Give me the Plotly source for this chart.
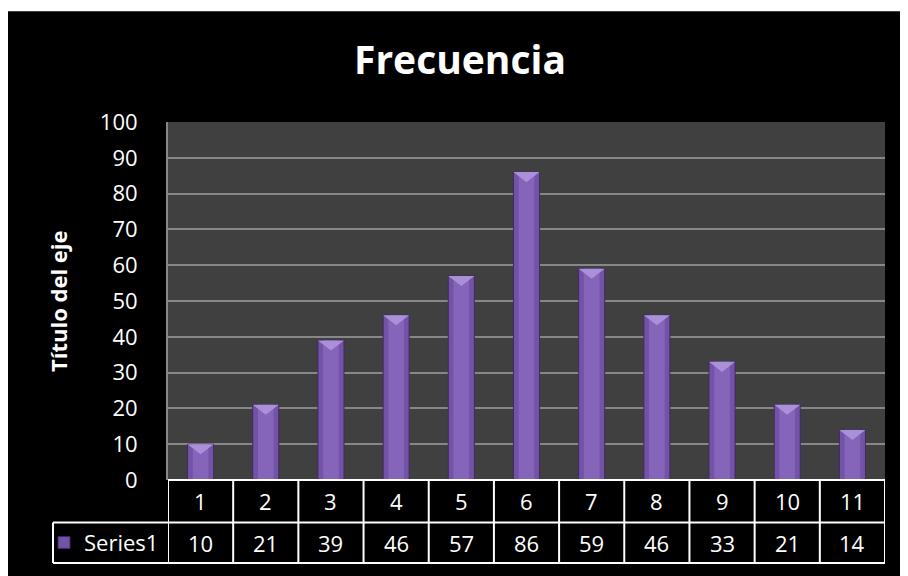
import plotly.graph_objects as go

categories = [1, 2, 3, 4, 5, 6, 7, 8, 9, 10, 11]
values = [10, 21, 39, 46, 57, 86, 59, 46, 33, 21, 14]
series_name = "Series1"
title_text = "Frecuencia"
y_title = "Título del eje"
y_ticks = [0, 10, 20, 30, 40, 50, 60, 70, 80, 90, 100]

# figure is placed at (8, 8) by the page margin
W, H = 900, 568
L, R, T, B = 160, 877, 114, 476  # plot area in figure pixels

def px(x):
    return (x - L) / (R - L)

def py(y):
    return (B - y) / (B - T)

FONT = "Open Sans"
BAR_W = 0.4
fig = go.Figure()
fig.add_trace(go.Bar(
    x=categories, y=values, name=series_name, width=BAR_W,
    marker=dict(color="#7353a6", line=dict(color="#3f2a63", width=1)),
    showlegend=True,
))
# lighter centre of the bevelled bars
fig.add_trace(go.Bar(
    x=categories, y=values, width=BAR_W * 0.6, hoverinfo="skip",
    marker=dict(color="#8565ba", line=dict(width=0)), showlegend=False,
))
# top bevel triangles
cap = 2.8
tx, ty = [], []
for c, v in zip(categories, values):
    tx += [c - BAR_W / 2, c + BAR_W / 2, c, c - BAR_W / 2, None]
    ty += [v, v, v - cap, v, None]
fig.add_trace(go.Scatter(
    x=tx, y=ty, mode="lines", fill="toself", fillcolor="#a990d8",
    line=dict(width=0, color="#a990d8"), hoverinfo="skip", showlegend=False,
))

shapes = []
# thin white strip at top of page
shapes.append(dict(type="rect", xref="paper", yref="paper", x0=px(-10), x1=px(W + 10), y0=py(2), y1=py(-6),
                   fillcolor="white", line=dict(width=0), layer="above"))

row1_bot, row2_bot, leg_left = 519, 560, 45
line_style = dict(color="white", width=2)
shapes.append(dict(type="line", xref="paper", yref="paper", x0=0, x1=1, y0=0, y1=0, line=line_style))
shapes.append(dict(type="line", xref="paper", yref="paper", x0=px(leg_left), x1=1, y0=py(row1_bot), y1=py(row1_bot), line=line_style))
shapes.append(dict(type="line", xref="paper", yref="paper", x0=px(leg_left), x1=1, y0=py(row2_bot), y1=py(row2_bot), line=line_style))
for k in range(len(categories) + 1):
    xb = categories[0] - 0.5 + k
    shapes.append(dict(type="line", xref="x", yref="paper", x0=xb, x1=xb, y0=0, y1=py(row2_bot), line=line_style))
shapes.append(dict(type="line", xref="paper", yref="paper", x0=px(leg_left), x1=px(leg_left),
                   y0=py(row1_bot), y1=py(row2_bot), line=line_style))

annotations = []
row1_c = py((B + row1_bot) / 2)
row2_c = py((row1_bot + row2_bot) / 2)
for c, v in zip(categories, values):
    annotations.append(dict(x=c, y=row1_c, xref="x", yref="paper", text=str(c), showarrow=False,
                            font=dict(family=FONT, size=22, color="white"), xanchor="center", yanchor="middle"))
    annotations.append(dict(x=c, y=row2_c, xref="x", yref="paper", text=str(v), showarrow=False,
                            font=dict(family=FONT, size=22, color="white"), xanchor="center", yanchor="middle"))
annotations.append(dict(x=px(50), y=0.5, xref="paper", yref="paper", text="<b>" + y_title + "</b>",
                        textangle=-90, showarrow=False, font=dict(family=FONT, size=22, color="white"),
                        xanchor="center", yanchor="middle"))

fig.update_layout(
    width=W, height=H,
    margin=dict(l=L, r=W - R, t=T, b=H - B, pad=0),
    paper_bgcolor="black", plot_bgcolor="#404040",
    barmode="overlay",
    title=dict(text="<b>" + title_text + "</b>", x=452 / W, y=1 - 52 / H, xref="container", yref="container",
               xanchor="center", yanchor="middle", font=dict(family=FONT, size=39, color="white")),
    xaxis=dict(range=[0.5, 11.5], showticklabels=False, showgrid=False, zeroline=False, ticks="",
               showline=False, fixedrange=True),
    yaxis=dict(range=[0, 100], tickvals=y_ticks, showgrid=True, gridcolor="#878787", gridwidth=2,
               zeroline=False, showline=True, linecolor="#878787", linewidth=2, ticks="",
               ticklabelstandoff=24, tickfont=dict(family=FONT, size=22, color="white")),
    showlegend=True,
    legend=dict(x=px(36), y=row2_c, xanchor="left", yanchor="middle", bgcolor="rgba(0,0,0,0)",
                font=dict(family=FONT, size=22, color="white"), itemclick=False),
    shapes=shapes, annotations=annotations,
)
fig.write_html("out.html")
